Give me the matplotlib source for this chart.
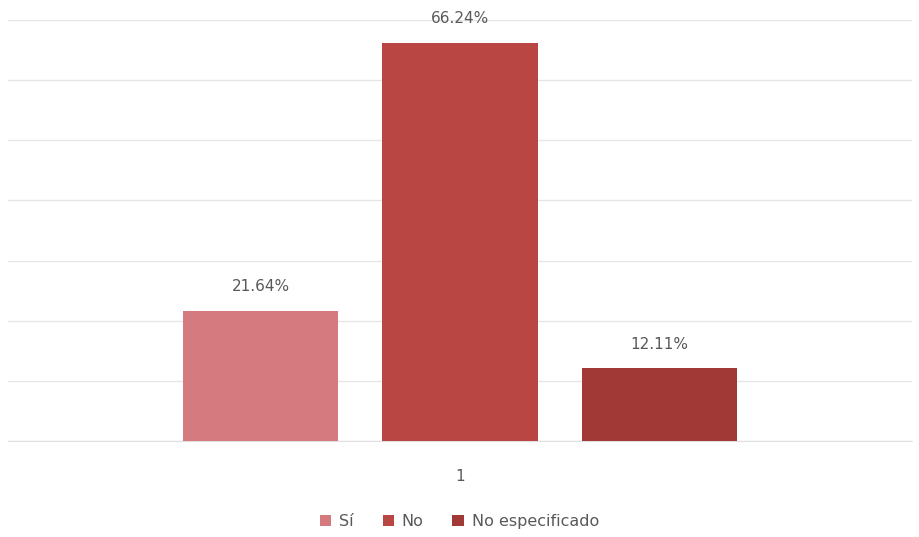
import matplotlib.pyplot as plt
import numpy as np

categories = ["1"]
series_names = ["Sí", "No", "No especificado"]
values = [21.64, 66.24, 12.11]
labels = ["21.64%", "66.24%", "12.11%"]
colors = ["#D57B7F", "#BA4643", "#A13937"]

fig = plt.figure(figsize=(9.19, 5.37), dpi=100)
ax = fig.add_axes([8 / 919, 96 / 537, 904 / 919, 421 / 537])

width = 1.0
offsets = [-1.28, 0.0, 1.28]
x = np.arange(len(categories))
for name, val, lab, col, off in zip(series_names, values, labels, colors, offsets):
    bars = ax.bar(x + off, [val], width=width, color=col, label=name, zorder=3)
    ax.bar_label(bars, labels=[lab], padding=12, color="#595959", fontsize=11)

ax.set_xlim(-2.9, 2.9)
ax.set_ylim(0, 70)
ax.set_yticks(np.arange(0, 71, 10))
ax.set_yticklabels([])
ax.tick_params(axis="y", length=0)
ax.set_xticks(x)
ax.set_xticklabels(categories, color="#595959", fontsize=11)
ax.tick_params(axis="x", length=0, pad=20)
ax.grid(axis="y", color="#E6E6E6", linewidth=1, zorder=0)
for s in ax.spines.values():
    s.set_visible(False)
ax.spines["bottom"].set_visible(True)
ax.spines["bottom"].set_color("#E0E0E0")

fig.legend(loc="lower center", bbox_to_anchor=(0.5, -0.012), ncol=3, frameon=False,
           fontsize=11.5, labelcolor="#595959", handlelength=0.7, handleheight=0.7,
           handletextpad=0.5, columnspacing=1.8)

fig.savefig("out.png", dpi=100, facecolor="white")
